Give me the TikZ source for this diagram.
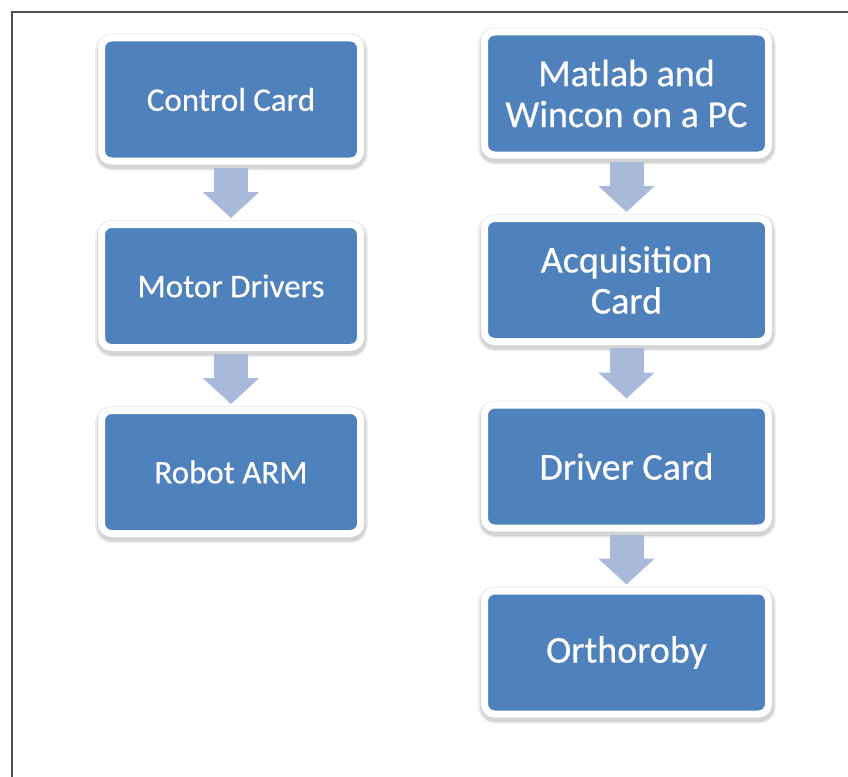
\documentclass[tikz,border=0pt]{standalone}
\usepackage{fontspec}
\setmainfont{Carlito}
\usetikzlibrary{arrows.meta}
\definecolor{boxblue}{HTML}{4F81BD}
\definecolor{arrowblue}{HTML}{A8B9DA}
\definecolor{framegray}{HTML}{505050}
\begin{document}
\begin{tikzpicture}[x=1pt,y=-1pt,
  stage/.style={rectangle, rounded corners=10pt, fill=boxblue, draw=white,
    line width=7pt, outer sep=0pt, inner sep=0pt, text=white, align=center,
    minimum height=123pt,
    preaction={draw=black!7, fill=black!7, line width=14pt,
      transform canvas={shift={(0.5pt,-2.5pt)}}},
    preaction={draw=black!17, line width=10pt,
      transform canvas={shift={(0.5pt,-3pt)}}}},
  leftstage/.style={stage, minimum width=259pt,
    font=\fontsize{33}{36}\selectfont\addfontfeature{FakeBold=0.4}},
  rightstage/.style={stage, minimum width=284pt,
    font=\fontsize{38}{41}\selectfont\addfontfeature{FakeBold=0.4}},
  flow/.style={draw=arrowblue, line width=34pt,
    -{Triangle[width=55pt,length=26pt]}}]
  \useasboundingbox (0,0) rectangle (848,776);

  % page frame
  \coordinate (fbl) at (12,777);
  \coordinate (ftl) at (12,12);
  \coordinate (ftr) at (849,12);
  \draw[framegray, line width=1.5pt] (fbl) -- (ftl) -- (ftr);

  % left chain
  \node[leftstage] (cc) at (231,99.5) {Control Card};
  \node[leftstage] (md) at (231,286) {Motor Drivers};
  \node[leftstage] (ra) at (231,472) {Robot ARM};

  % right chain
  \node[rightstage] (pc) at (626.5,93.5) {Matlab and\\Wincon on a PC};
  \node[rightstage] (ac) at (626.5,280) {Acquisition\\Card};
  \node[rightstage] (dc) at (626.5,466.5) {Driver Card};
  \node[rightstage] (or) at (626.5,652.5) {Orthoroby};

  % block arrows
  \draw[flow] ([yshift=-6.5pt]cc.south) -- ([yshift=6.5pt]md.north);
  \draw[flow] ([yshift=-6.5pt]md.south) -- ([yshift=6.5pt]ra.north);
  \draw[flow] ([yshift=-6.5pt]pc.south) -- ([yshift=6.5pt]ac.north);
  \draw[flow] ([yshift=-6.5pt]ac.south) -- ([yshift=6.5pt]dc.north);
  \draw[flow] ([yshift=-6.5pt]dc.south) -- ([yshift=6.5pt]or.north);
\end{tikzpicture}
\end{document}
